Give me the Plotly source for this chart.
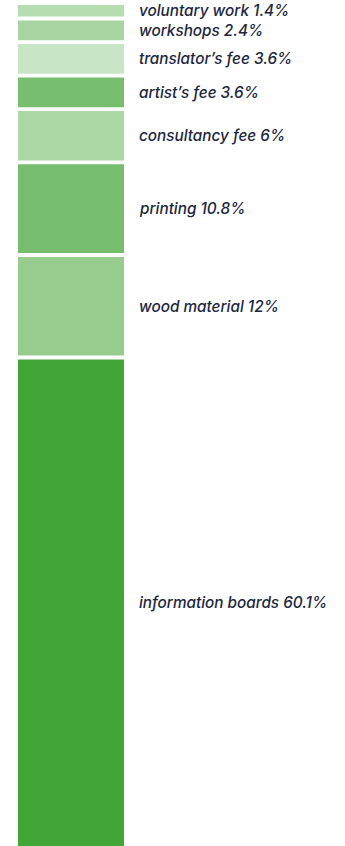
import plotly.graph_objects as go

# data (bottom to top)
categories = ["information boards", "wood material", "printing", "consultancy fee",
              "artist’s fee", "translator’s fee", "workshops", "voluntary work"]
values = [60.1, 12, 10.8, 6, 3.6, 3.6, 2.4, 1.4]
value_labels = ["60.1%", "12%", "10.8%", "6%", "3.6%", "3.6%", "2.4%", "1.4%"]
colors = ["#42a637", "#98cc8f", "#76bd6e", "#acd8a6", "#77bf6e", "#c8e6c6", "#a8d5a2", "#b4ddb0"]

# style: white spacing between stacked segments (axis units) and visible window
segment_gap = 0.475
stack_top = sum(values) + segment_gap * (len(values) - 1)
y_range = [stack_top - 102.3, stack_top]

fig = go.Figure()
base = 0.0
annotations = []
for cat, v, lab, c in zip(categories, values, value_labels, colors):
    fig.add_trace(go.Bar(
        x=[0], y=[v], base=[base], width=1,
        marker=dict(color=c, line=dict(width=0)),
        hoverinfo="skip", showlegend=False,
    ))
    lo = max(base, y_range[0])
    hi = min(base + v, y_range[1])
    annotations.append(dict(
        x=0.623, y=(lo + hi) / 2, xref="x", yref="y",
        text=f"{cat} {lab}", showarrow=False, xanchor="left", yanchor="middle",
        font=dict(family="Inter", size=15.3, color="#1b2640", style="italic", weight=500),
    ))
    base += v + segment_gap

fig.update_layout(
    width=345, height=846,
    margin=dict(l=0, r=0, t=5, b=0),
    paper_bgcolor="white", plot_bgcolor="white",
    barmode="overlay",
    xaxis=dict(range=[-71/106, (345-71)/106], visible=False, fixedrange=True),
    yaxis=dict(range=y_range, visible=False, fixedrange=True),
    annotations=annotations,
)
fig.write_html("out.html", config={"displayModeBar": False},
               post_script="document.body.style.margin='0';")
